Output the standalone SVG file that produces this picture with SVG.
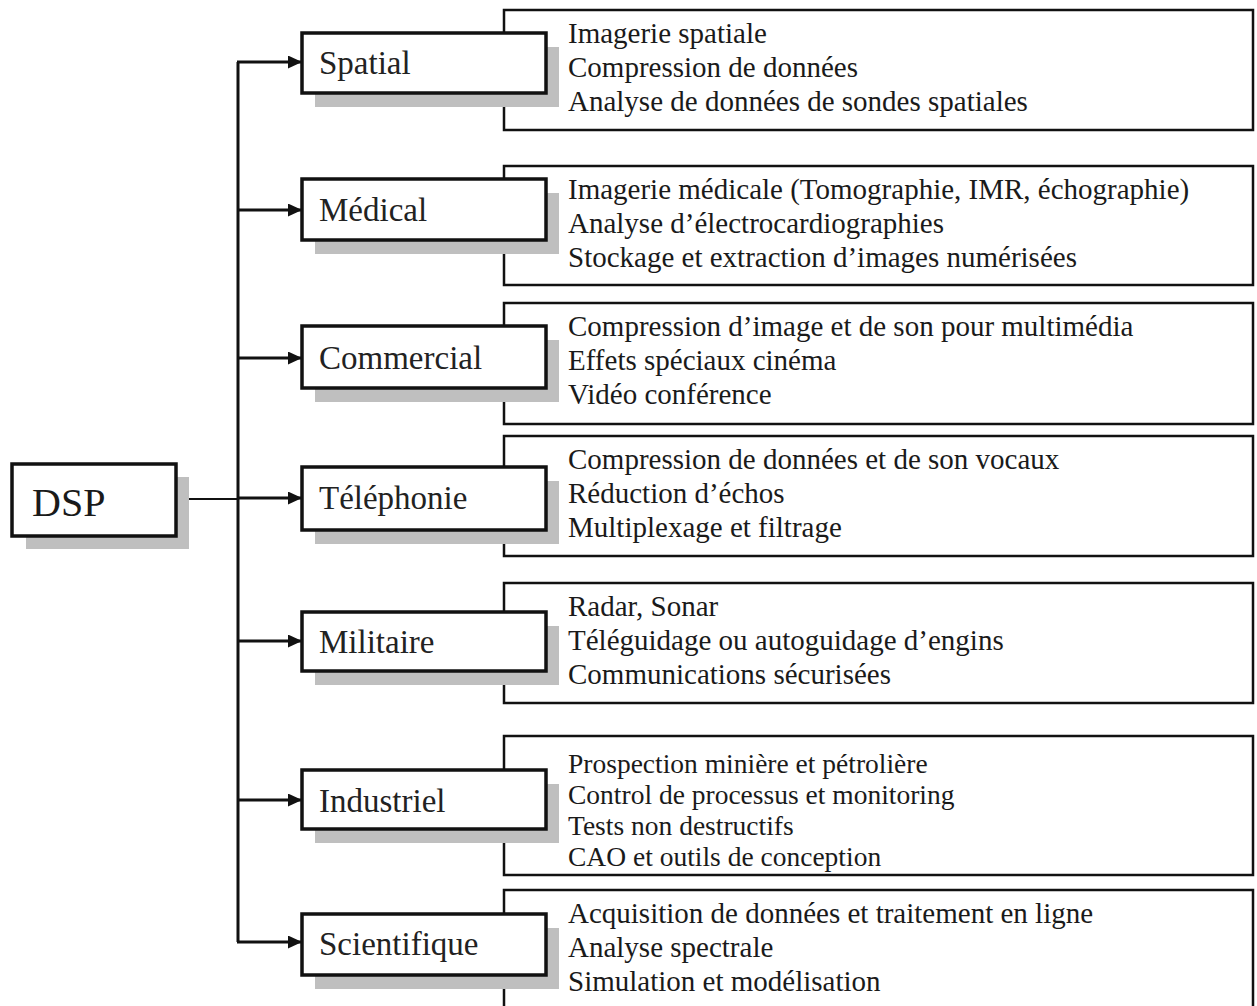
<svg xmlns="http://www.w3.org/2000/svg" width="1257" height="1006" viewBox="0 0 1257 1006">
<style>
  .desc { fill: #ffffff; stroke: #111; stroke-width: 2.5; }
  .shadow { fill: #bfbfbf; stroke: none; }
  .label { fill: #ffffff; stroke: #111; stroke-width: 3.5; }
  .lt { font-family: "Liberation Serif", "Times New Roman", serif; font-size: 33px; fill: #222; }
  .dt { font-family: "Liberation Serif", "Times New Roman", serif; font-size: 29px; fill: #1a1a1a; }
  .dts { font-family: "Liberation Serif", "Times New Roman", serif; font-size: 27.5px; fill: #1a1a1a; }
  .conn { fill: none; stroke: #111; stroke-width: 3; }
  .thin { fill: none; stroke: #111; stroke-width: 2; }
</style>
<defs>
  <marker id="arrow" markerUnits="userSpaceOnUse" markerWidth="15" markerHeight="14" refX="14" refY="6.5" orient="auto">
    <path d="M0,0 L14,6.5 L0,13 Z" fill="#111"/>
  </marker>
</defs>
<rect x="0" y="0" width="1257" height="1006" fill="#ffffff"/>

<g id="connectors">
  <line class="thin" x1="189" y1="499" x2="238" y2="499"/>
  <line class="conn" x1="238" y1="62" x2="238" y2="942"/>
  <line class="conn" x1="237" y1="62" x2="302" y2="62" marker-end="url(#arrow)"/>
  <line class="conn" x1="238" y1="210" x2="302" y2="210" marker-end="url(#arrow)"/>
  <line class="conn" x1="238" y1="358" x2="302" y2="358" marker-end="url(#arrow)"/>
  <line class="conn" x1="238" y1="498" x2="302" y2="498" marker-end="url(#arrow)"/>
  <line class="conn" x1="238" y1="641" x2="302" y2="641" marker-end="url(#arrow)"/>
  <line class="conn" x1="238" y1="800" x2="302" y2="800" marker-end="url(#arrow)"/>
  <line class="conn" x1="237" y1="942" x2="302" y2="942" marker-end="url(#arrow)"/>
</g>

<g id="node-dsp">
  <rect class="shadow" x="26" y="477" width="163" height="72"/>
  <rect class="label" x="12" y="464" width="164" height="72"/>
  <text x="32" y="516" font-family="Liberation Serif, serif" font-size="40" fill="#1a1a1a">DSP</text>
</g>

<g id="node-spatial">
  <rect class="desc" x="504" y="10" width="749" height="120"/>
  <text class="dt" x="568" y="43">Imagerie spatiale</text>
  <text class="dt" x="568" y="77">Compression de données</text>
  <text class="dt" x="568" y="111">Analyse de données de sondes spatiales</text>
  <rect class="shadow" x="315" y="47" width="244" height="60"/>
  <rect class="label" x="302" y="33" width="244" height="60"/>
  <text class="lt" x="319" y="74">Spatial</text>
</g>

<g id="node-medical">
  <rect class="desc" x="504" y="166" width="749" height="119"/>
  <text class="dt" x="568" y="199">Imagerie médicale (Tomographie, IMR, échographie)</text>
  <text class="dt" x="568" y="233">Analyse d’électrocardiographies</text>
  <text class="dt" x="568" y="267">Stockage et extraction d’images numérisées</text>
  <rect class="shadow" x="315" y="193" width="244" height="61"/>
  <rect class="label" x="302" y="179" width="244" height="61"/>
  <text class="lt" x="319" y="221">Médical</text>
</g>

<g id="node-commercial">
  <rect class="desc" x="504" y="303" width="749" height="121"/>
  <text class="dt" x="568" y="336">Compression d’image et de son pour multimédia</text>
  <text class="dt" x="568" y="370">Effets spéciaux cinéma</text>
  <text class="dt" x="568" y="404">Vidéo conférence</text>
  <rect class="shadow" x="315" y="340" width="244" height="62"/>
  <rect class="label" x="302" y="326" width="244" height="62"/>
  <text class="lt" x="319" y="369">Commercial</text>
</g>

<g id="node-telephonie">
  <rect class="desc" x="504" y="436" width="749" height="120"/>
  <text class="dt" x="568" y="469">Compression de données et de son vocaux</text>
  <text class="dt" x="568" y="503">Réduction d’échos</text>
  <text class="dt" x="568" y="537">Multiplexage et filtrage</text>
  <rect class="shadow" x="315" y="481" width="244" height="63"/>
  <rect class="label" x="302" y="467" width="244" height="63"/>
  <text class="lt" x="319" y="509">Téléphonie</text>
</g>

<g id="node-militaire">
  <rect class="desc" x="504" y="583" width="749" height="120"/>
  <text class="dt" x="568" y="616">Radar, Sonar</text>
  <text class="dt" x="568" y="650">Téléguidage ou autoguidage d’engins</text>
  <text class="dt" x="568" y="684">Communications sécurisées</text>
  <rect class="shadow" x="315" y="626" width="244" height="59"/>
  <rect class="label" x="302" y="612" width="244" height="59"/>
  <text class="lt" x="319" y="653">Militaire</text>
</g>

<g id="node-industriel">
  <rect class="desc" x="504" y="736" width="749" height="139"/>
  <text class="dts" x="568" y="773">Prospection minière et pétrolière</text>
  <text class="dts" x="568" y="804">Control de processus et monitoring</text>
  <text class="dts" x="568" y="835">Tests non destructifs</text>
  <text class="dts" x="568" y="866">CAO et outils de conception</text>
  <rect class="shadow" x="315" y="784" width="244" height="59"/>
  <rect class="label" x="302" y="770" width="244" height="59"/>
  <text class="lt" x="319" y="812">Industriel</text>
</g>

<g id="node-scientifique">
  <rect class="desc" x="504" y="890" width="749" height="130"/>
  <text class="dt" x="568" y="923">Acquisition de données et traitement en ligne</text>
  <text class="dt" x="568" y="957">Analyse spectrale</text>
  <text class="dt" x="568" y="991">Simulation et modélisation</text>
  <rect class="shadow" x="315" y="928" width="244" height="61"/>
  <rect class="label" x="302" y="914" width="244" height="61"/>
  <text class="lt" x="319" y="955">Scientifique</text>
</g>
</svg>
